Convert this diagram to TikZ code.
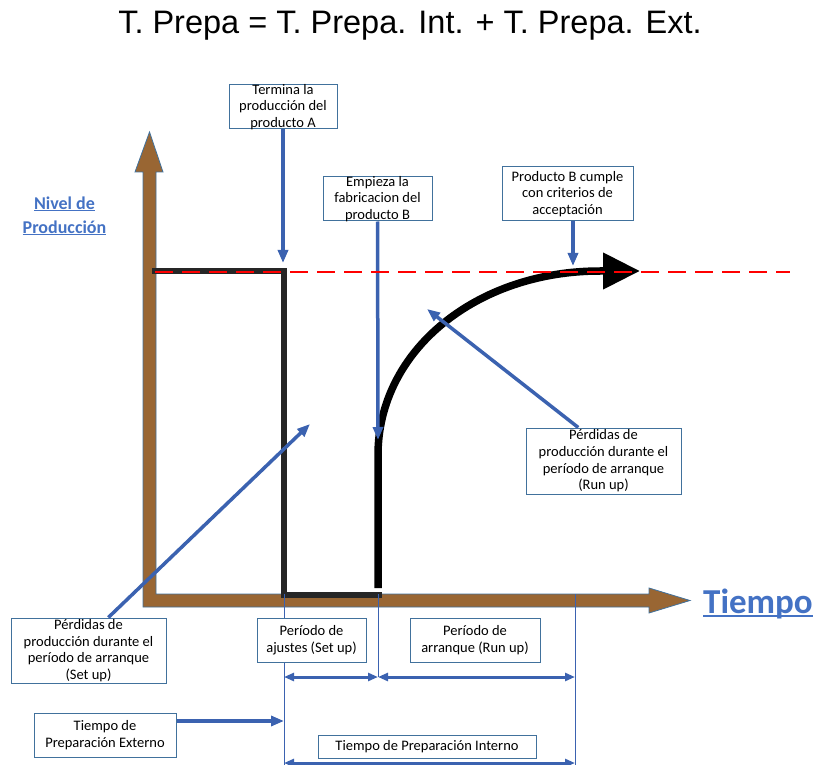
\documentclass[tikz,border=0pt]{standalone}
\usepackage{fontspec}
\setmainfont{Carlito}
\newfontfamily\titlefont{Liberation Sans}
\usetikzlibrary{arrows.meta}

\definecolor{axisbrown}{RGB}{153,102,51}
\definecolor{edgeblue}{RGB}{65,113,156}
\definecolor{arrowblue}{RGB}{59,98,176}
\definecolor{textblue}{RGB}{68,114,196}
\definecolor{stepgray}{RGB}{38,38,38}

\newcommand{\ulbl}[1]{\setbox0\hbox{#1}\rlap{\rule[-0.12em]{\wd0}{0.06em}}\box0}

\begin{document}
\begin{tikzpicture}[x=1pt,y=-1pt,
    infobox/.style={draw=edgeblue, line width=1pt, fill=white, inner sep=0pt},
    boxtext/.style={align=center, inner sep=0pt, font=\fontsize{14.5}{16.7}\selectfont},
    pointer/.style={draw=arrowblue, line width=3.5pt, -{Triangle[length=13pt,width=10pt]}},
    span/.style={draw=arrowblue, line width=3pt, {Triangle[length=10pt,width=8pt]}-{Triangle[length=10pt,width=8pt]}},
    guide/.style={draw=arrowblue, line width=0.8pt}]

    \useasboundingbox (0,0) rectangle (815,765);

    % ================= TITLE =================
    \node[font=\titlefont\fontsize{32.5}{38}\selectfont, anchor=base] (title) at (410,34)
        {T. Prepa = T. Prepa. Int. + T. Prepa. Ext.};

    % ================= AXES =================
    \draw[fill=axisbrown, draw=edgeblue, line width=0.8pt]
        (143,607) -- (143,172) -- (135,172) -- (149.5,132) -- (163,172) -- (156,172)
        -- (156,594) -- (649,594) -- (649,588) -- (690,600.5) -- (649,613) -- (649,607) -- cycle;

    \node[text=textblue, font=\bfseries\fontsize{18}{24}\selectfont, align=center] (ylabel)
        at (64.5,216) {\ulbl{Nivel de}\\\ulbl{Producción}};
    \node[anchor=base west, text=textblue, font=\bfseries\fontsize{35}{42}\selectfont, inner sep=0pt] (xlabel)
        at (703,613) {\ulbl{Tiempo}};

    % ================= PRODUCTION CURVES =================
    \draw[stepgray, line width=6pt] (152,271) -- (283.5,271) -- (283.5,594.5) -- (382,594.5);
    \draw[black, line width=7.5pt, -{Triangle[length=37pt,width=35pt]}]
        (378,588) -- (378,455) .. controls (378,350) and (477,271) .. (600,271) -- (640,271);

    % Guides and periods
    \draw[guide] (284,594) -- (284,765);
    \draw[guide] (378,594) -- (378,677);
    \draw[guide] (575,594) -- (575,765);
    \draw[span] (284,677) -- (378,677);
    \draw[span] (378,677) -- (575,677);
    \draw[span] (284,763) -- (575,763);

    % ================= BOXES =================
    \node[infobox, minimum width=108pt, minimum height=44pt,
        label={[boxtext]center:{Termina la\\producción del\\producto A}}] (endA) at (283,107) {};
    \node[infobox, minimum width=109pt, minimum height=44pt,
        label={[boxtext]center:{Empieza la\\fabricacion del\\producto B}}] (startB) at (377.5,199) {};
    \node[infobox, minimum width=131pt, minimum height=54pt,
        label={[boxtext]center:{Producto B cumple\\con criterios de\\acceptación}}] (acceptB) at (567.5,194) {};
    \node[infobox, minimum width=155pt, minimum height=66pt,
        label={[boxtext]center:{Pérdidas de\\producción durante el\\período de arranque\\(Run up)}}] (lossRun) at (603.5,461) {};
    \node[infobox, minimum width=155pt, minimum height=65pt,
        label={[boxtext]center:{Pérdidas de\\producción durante el\\período de arranque\\(Set up)}}] (lossSet) at (88.5,650.5) {};
    \node[infobox, minimum width=142pt, minimum height=44pt,
        label={[boxtext]center:{Tiempo de\\Preparación Externo}}] (prepExt) at (105,735) {};
    \node[infobox, minimum width=109pt, minimum height=44pt,
        label={[boxtext]center:{Período de\\ajustes (Set up)}}] (setupPer) at (311.5,640) {};
    \node[infobox, minimum width=130pt, minimum height=44pt,
        label={[boxtext]center:{Período de\\arranque (Run up)}}] (runupPer) at (475,640) {};
    \node[infobox, minimum width=218pt, minimum height=23pt,
        label={[boxtext]center:{Tiempo de Preparación Interno}}] (prepInt) at (427,746.5) {};

    % Pointers
    \coordinate (endAtip) at (283,263);
    \coordinate (startBtip) at (378,440);
    \coordinate (acceptBtip) at (573,266);
    \coordinate (lossRuntip) at (427,309);
    \coordinate (lossSettip) at (310,424);
    \coordinate (prepExttip) at (284,721);

    \draw[pointer] (endA) -- (endAtip);
    \draw[pointer] (startB) -- (startBtip);
    \draw[pointer] (acceptB.south -| acceptBtip) -- (acceptBtip);
    \draw[pointer] (lossRun.127) -- (lossRuntip);
    \draw[pointer] (lossSet.59) -- (lossSettip);
    \draw[pointer] (prepExt.east |- prepExttip) -- (prepExttip);

    % Target level
    \draw[red, line width=2.5pt, dash pattern=on 18pt off 9pt] (155,272) -- (790,272);

\end{tikzpicture}
\end{document}
